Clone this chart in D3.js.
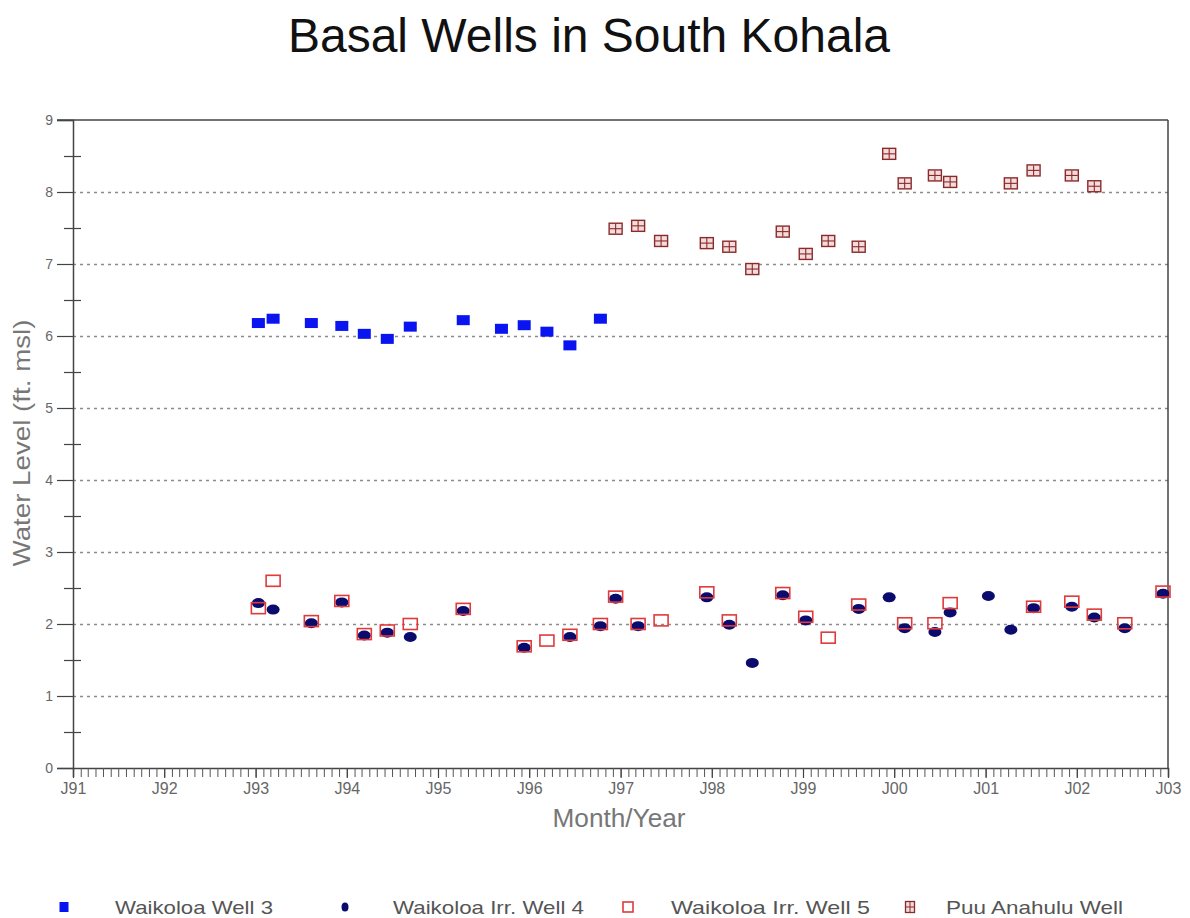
<!DOCTYPE html>
<html>
<head>
<meta charset="utf-8">
<script src="https://cdn.jsdelivr.net/npm/d3@7"></script>
<style>
  html, body { margin: 0; padding: 0; background: #fff; }
  svg { display: block; font-family: "Liberation Sans", Arial, sans-serif; }
</style>
</head>
<body>
<svg id="chart" width="1190" height="918"></svg>
<script>
// ---------- data ----------
const well3Dates  = ["1993-01","1993-03","1993-08","1993-12","1994-03","1994-06","1994-09","1995-04","1995-09","1995-12","1996-03","1996-06","1996-10"];
const well3Values = [6.18, 6.24, 6.18, 6.14, 6.03, 5.96, 6.13, 6.22, 6.10, 6.15, 6.06, 5.87, 6.24];

const well4Dates  = ["1993-01","1993-03","1993-08","1993-12","1994-03","1994-06","1994-09","1995-04","1995-12","1996-06","1996-10","1996-12","1997-03","1997-12","1998-03","1998-06","1998-10","1999-01","1999-08","1999-12","2000-02","2000-06","2000-08","2001-01","2001-04","2001-07","2001-12","2002-03","2002-07","2002-12"];
const well4Values = [2.29, 2.20, 2.01, 2.30, 1.84, 1.88, 1.82, 2.18, 1.67, 1.82, 1.97, 2.35, 1.97, 2.37, 1.99, 1.46, 2.40, 2.05, 2.21, 2.37, 1.94, 1.89, 2.16, 2.39, 1.92, 2.22, 2.24, 2.09, 1.94, 2.42];

const well5Dates  = ["1993-01","1993-03","1993-08","1993-12","1994-03","1994-06","1994-09","1995-04","1995-12","1996-03","1996-06","1996-10","1996-12","1997-03","1997-06","1997-12","1998-03","1998-10","1999-01","1999-04","1999-08","2000-02","2000-06","2000-08","2001-07","2001-12","2002-03","2002-07","2002-12"];
const well5Values = [2.22, 2.60, 2.04, 2.32, 1.86, 1.91, 2.00, 2.21, 1.69, 1.77, 1.85, 2.00, 2.38, 2.00, 2.05, 2.44, 2.05, 2.43, 2.10, 1.81, 2.27, 2.01, 2.01, 2.29, 2.24, 2.31, 2.13, 2.01, 2.45];

const puuDates  = ["1996-12","1997-03","1997-06","1997-12","1998-03","1998-06","1998-10","1999-01","1999-04","1999-08","1999-12","2000-02","2000-06","2000-08","2001-04","2001-07","2001-12","2002-03"];
const puuValues = [7.49, 7.53, 7.32, 7.29, 7.24, 6.93, 7.45, 7.14, 7.32, 7.24, 8.53, 8.12, 8.23, 8.14, 8.12, 8.30, 8.23, 8.08];

const seriesNames = ["Waikoloa Well 3", "Waikoloa Irr. Well 4", "Waikoloa Irr. Well 5", "Puu Anahulu Well"];
const yTickValues = [0,1,2,3,4,5,6,7,8,9];
const yMinorTicks = [0.5,1.5,2.5,3.5,4.5,5.5,6.5,7.5,8.5];
const yGridValues = [1,2,3,4,5,6,7,8];
const xDomain = ["1991-01-01", "2003-01-01"];

const titleText = "Basal Wells in South Kohala";
const xTitle = "Month/Year";
const yTitle = "Water Level (ft. msl)";

// ---------- setup ----------
const svg = d3.select("#chart");
const pL = 73, pR = 1168, pT = 120, pB = 768;

const parseDay = d3.timeParse("%Y-%m-%d");
const parseMonth = s => { const [yy, mm] = s.split("-").map(Number); return new Date(yy, mm - 1, 12); };

const x = d3.scaleTime().domain(xDomain.map(parseDay)).range([pL, pR]);
const y = d3.scaleLinear().domain([0, 9]).range([pB, pT]);

const toPoints = (dates, vals) => dates.map((d, i) => ({ date: parseMonth(d), value: vals[i] }));
const s3 = toPoints(well3Dates, well3Values);
const s4 = toPoints(well4Dates, well4Values);
const s5 = toPoints(well5Dates, well5Values);
const sp = toPoints(puuDates, puuValues);

// title
svg.append("text")
  .attr("x", 589).attr("y", 52)
  .attr("text-anchor", "middle")
  .attr("font-size", 48)
  .attr("fill", "#111")
  .text(titleText);

// gridlines
const grid = svg.append("g").attr("transform", `translate(${pL},0)`)
  .call(d3.axisRight(y).tickValues(yGridValues).tickSize(pR - pL).tickFormat(""));
grid.select(".domain").remove();
grid.selectAll(".tick line")
  .attr("stroke", "#8a8a8a").attr("stroke-width", 1.6).attr("stroke-dasharray", "3,4");

// frame: top and right
svg.append("line").attr("x1", pL - 16).attr("x2", pR).attr("y1", pT).attr("y2", pT)
  .attr("stroke", "#444").attr("stroke-width", 1.5);
svg.append("line").attr("x1", pR).attr("x2", pR).attr("y1", pT).attr("y2", pB)
  .attr("stroke", "#444").attr("stroke-width", 1.5);

// y axis major
const yAxis = svg.append("g").attr("transform", `translate(${pL},0)`)
  .call(d3.axisLeft(y).tickValues(yTickValues).tickSize(16).tickPadding(4).tickFormat(d3.format("d")));
yAxis.select(".domain").attr("stroke", "#444").attr("stroke-width", 1.5);
yAxis.selectAll(".tick line").attr("stroke", "#444").attr("stroke-width", 1.2);
yAxis.selectAll(".tick text").attr("font-size", 14).attr("fill", "#666")
  .attr("font-family", "Liberation Sans, Arial, sans-serif");

// y axis minor (crossing ticks)
const yMinL = svg.append("g").attr("transform", `translate(${pL},0)`)
  .call(d3.axisLeft(y).tickValues(yMinorTicks).tickSize(9).tickFormat(""));
const yMinR = svg.append("g").attr("transform", `translate(${pL},0)`)
  .call(d3.axisRight(y).tickValues(yMinorTicks).tickSize(8).tickFormat(""));
[yMinL, yMinR].forEach(g => {
  g.select(".domain").remove();
  g.selectAll(".tick line").attr("stroke", "#444").attr("stroke-width", 1.2);
});

// x axis monthly ticks
const xMonth = svg.append("g").attr("transform", `translate(0,${pB})`)
  .call(d3.axisBottom(x).ticks(d3.timeMonth.every(1)).tickSize(9).tickFormat(""));
xMonth.select(".domain").attr("stroke", "#444").attr("stroke-width", 1.5);
xMonth.selectAll(".tick line").attr("stroke", "#555").attr("stroke-width", 1);

// x axis yearly labels
const xYear = svg.append("g").attr("transform", `translate(0,${pB})`)
  .call(d3.axisBottom(x).ticks(d3.timeYear.every(1)).tickSize(10).tickPadding(5)
    .tickFormat(d => "J" + d3.timeFormat("%y")(d)));
xYear.select(".domain").remove();
xYear.selectAll(".tick line").attr("stroke", "#444").attr("stroke-width", 1.2);
xYear.selectAll(".tick text").attr("font-size", 16).attr("fill", "#666")
  .attr("font-family", "Liberation Sans, Arial, sans-serif");

// axis titles
svg.append("text")
  .attr("x", 619).attr("y", 827)
  .attr("text-anchor", "middle")
  .attr("font-size", 25)
  .attr("fill", "#777")
  .attr("textLength", 133).attr("lengthAdjust", "spacingAndGlyphs")
  .text(xTitle);

svg.append("text")
  .attr("transform", "translate(30,443) rotate(-90)")
  .attr("text-anchor", "middle")
  .attr("font-size", 24)
  .attr("fill", "#777")
  .attr("textLength", 247).attr("lengthAdjust", "spacingAndGlyphs")
  .text(yTitle);

// ---------- marks ----------
const plot = svg.append("g");

// Well 3: blue filled squares
plot.selectAll("rect.w3").data(s3).join("rect").attr("class", "w3")
  .attr("x", d => x(d.date) - 6.5).attr("y", d => y(d.value) - 5)
  .attr("width", 13).attr("height", 10)
  .attr("fill", "#0a14f0");

// Well 4: navy filled ellipses
plot.selectAll("ellipse.w4").data(s4).join("ellipse").attr("class", "w4")
  .attr("cx", d => x(d.date)).attr("cy", d => y(d.value))
  .attr("rx", 6.5).attr("ry", 5)
  .attr("fill", "#0b0b6e");

// Well 5: red open squares
plot.selectAll("rect.w5").data(s5).join("rect").attr("class", "w5")
  .attr("x", d => x(d.date) - 7).attr("y", d => y(d.value) - 5.5)
  .attr("width", 14).attr("height", 11)
  .attr("fill", "none").attr("stroke", "#e03a3a").attr("stroke-width", 1.6);

// Puu Anahulu: square with cross
const pg = plot.selectAll("g.pu").data(sp).join("g").attr("class", "pu")
  .attr("transform", d => `translate(${x(d.date)},${y(d.value)})`);
pg.append("rect").attr("x", -6.5).attr("y", -5.5).attr("width", 13).attr("height", 11)
  .attr("fill", "#f4dcdc").attr("stroke", "#8b2a2a").attr("stroke-width", 1.4);
pg.append("line").attr("x1", -6).attr("x2", 6).attr("y1", 0).attr("y2", 0)
  .attr("stroke", "#8b2a2a").attr("stroke-width", 1.1);
pg.append("line").attr("x1", 0).attr("x2", 0).attr("y1", -5).attr("y2", 5)
  .attr("stroke", "#8b2a2a").attr("stroke-width", 1.1);

// ---------- legend ----------
const legendMarkerX = [64, 345, 628, 910];
const legendTextX = [115, 393, 671, 946];
const legendTextLen = [158, 191, 199, 177];
const ly = 907;
const lg = svg.append("g");
lg.append("rect").attr("x", legendMarkerX[0] - 4.5).attr("y", ly - 5).attr("width", 9).attr("height", 10).attr("fill", "#0a14f0");
lg.append("ellipse").attr("cx", legendMarkerX[1]).attr("cy", ly).attr("rx", 3.5).attr("ry", 4.5).attr("fill", "#0b0b6e");
lg.append("rect").attr("x", legendMarkerX[2] - 5).attr("y", ly - 5).attr("width", 10).attr("height", 10)
  .attr("fill", "none").attr("stroke", "#e03a3a").attr("stroke-width", 1.6);
const lp = lg.append("g").attr("transform", `translate(${legendMarkerX[3]},${ly})`);
lp.append("rect").attr("x", -4.5).attr("y", -5.5).attr("width", 9).attr("height", 11)
  .attr("fill", "#f4dcdc").attr("stroke", "#8b2a2a").attr("stroke-width", 1.3);
lp.append("line").attr("x1", -4).attr("x2", 4).attr("y1", 0).attr("y2", 0).attr("stroke", "#8b2a2a").attr("stroke-width", 1);
lp.append("line").attr("x1", 0).attr("x2", 0).attr("y1", -5).attr("y2", 5).attr("stroke", "#8b2a2a").attr("stroke-width", 1);

lg.selectAll("text").data(seriesNames).join("text")
  .attr("x", (d, i) => legendTextX[i]).attr("y", ly + 7)
  .attr("font-size", 19).attr("fill", "#555")
  .attr("textLength", (d, i) => legendTextLen[i]).attr("lengthAdjust", "spacingAndGlyphs")
  .text(d => d);
</script>
</body>
</html>
